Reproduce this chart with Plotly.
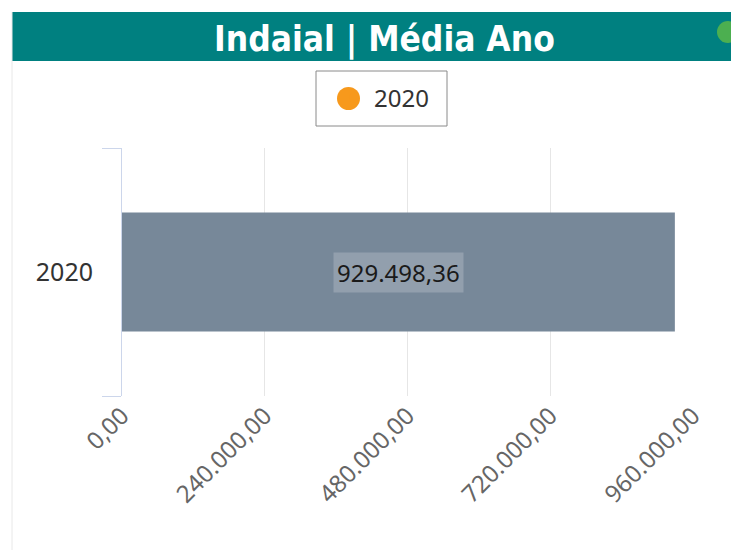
import plotly.graph_objects as go

# ---- data ----
categories = ["2020"]
values = [929498.36]
series_name = "2020"
tick_values = [0, 240000, 480000, 720000, 960000]
tick_labels = ["0,00", "240.000,00", "480.000,00", "720.000,00", "960.000,00"]
title_text = "Indaial | Média Ano"


def br_fmt(v):
    s = f"{v:,.2f}"
    return s.replace(",", "X").replace(".", ",").replace("X", ".")


W, H = 739, 550
OFF = 8  # page body margin offset
L, R, T, B = 122 - OFF, 693 - OFF, 148 - OFF, 396 - OFF  # plot area in figure pixels


def px(x):
    x = x - OFF
    return (x - L) / (R - L)


def py(y):
    y = y - OFF
    return (B - y) / (B - T)


fig = go.Figure()
fig.add_trace(go.Bar(
    x=values, y=categories, orientation="h",
    marker=dict(color="#778899", line=dict(width=0)),
    width=0.48, showlegend=False, hoverinfo="skip",
))
# legend entry (orange circle) on a hidden overlay axis pair
fig.add_trace(go.Scatter(
    x=[None], y=[None], mode="markers", name=series_name,
    xaxis="x2", yaxis="y2",
    marker=dict(color="#f7991c", size=10, symbol="circle"),
))

for i, (c, v) in enumerate(zip(categories, values)):
    fig.add_annotation(
        x=v / 2, y=i, xref="x", yref="y", text=br_fmt(v), showarrow=False,
        font=dict(family="Noto Sans", size=24, color="#1a1a1a"),
        bgcolor="rgba(255,255,255,0.2)", borderpad=3,
    )

shapes = [
    # card left border
    dict(type="line", xref="paper", yref="paper", x0=px(12), x1=px(12), y0=py(12), y1=py(560),
         line=dict(color="#e8e8e8", width=1)),
    # title bar
    dict(type="rect", xref="paper", yref="paper", x0=px(12), x1=px(760), y0=py(61), y1=py(12),
         fillcolor="#008080", line=dict(width=0), layer="below"),
    # green dot
    dict(type="circle", xref="paper", yref="paper", x0=px(717), x1=px(739), y0=py(43), y1=py(21),
         fillcolor="#4caf50", line=dict(width=0)),
    # legend box
    dict(type="rect", xref="paper", yref="paper", x0=px(316), x1=px(447), y0=py(126), y1=py(71),
         line=dict(color="#8a8a8a", width=1), fillcolor="rgba(0,0,0,0)"),
    # enlarged legend symbol
    dict(type="circle", xref="paper", yref="paper", x0=px(337), x1=px(360), y0=py(110), y1=py(87),
         fillcolor="#f7991c", line=dict(width=0)),
]

fig.add_annotation(
    x=px(384), y=py(39), xref="paper", yref="paper", text="<b>" + title_text + "</b>",
    showarrow=False, font=dict(family="DejaVu Sans Condensed", size=35, color="white"),
    xanchor="center", yanchor="middle",
)

fig.update_layout(
    width=W, height=H,
    margin=dict(l=L, r=W - R, t=T, b=H - B),
    paper_bgcolor="white", plot_bgcolor="white",
    shapes=shapes,
    showlegend=True,
    legend=dict(
        orientation="h", x=px(334), y=py(98), xanchor="left", yanchor="middle",
        borderwidth=0, bgcolor="rgba(0,0,0,0)",
        font=dict(family="Noto Sans", size=24, color="#333"),
        itemsizing="trace",
    ),
    xaxis=dict(
        range=[0, 960000], tickvals=tick_values, ticktext=tick_labels,
        tickangle=-45, showgrid=True, gridcolor="#e6e6e6", zeroline=False,
        showline=False, ticks="", automargin=False,
        tickfont=dict(family="Noto Sans", size=24, color="#666"),
    ),
    yaxis=dict(
        type="category", range=[-0.5, len(categories) - 0.5], autorange=False,
        showgrid=False, showline=True, linecolor="#ccd6eb",
        ticks="outside", tickson="boundaries", ticklen=19, tickcolor="#ccd6eb",
        ticklabelstandoff=23,
        automargin=False,
        tickfont=dict(family="Noto Sans", size=25, color="#333"),
    ),
    xaxis2=dict(overlaying="x", visible=False, range=[0, 1]),
    yaxis2=dict(overlaying="y", visible=False, range=[0, 1]),
    bargap=0.52,
)

fig.write_html("out.html")
